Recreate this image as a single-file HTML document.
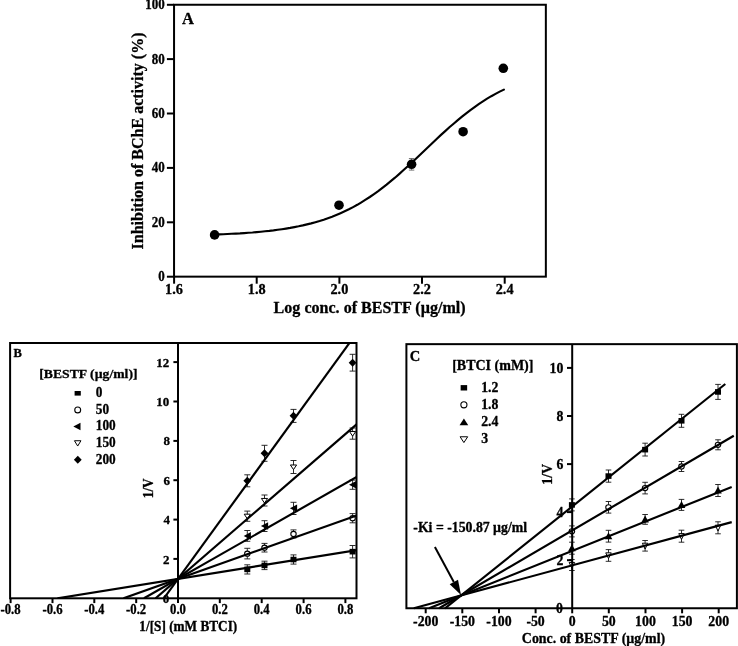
<!DOCTYPE html><html><head><meta charset="utf-8"><title>Figure</title>
<style>html,body{margin:0;padding:0;background:#fff;}svg{display:block;will-change:transform;filter:grayscale(1)}text{font-family:"Liberation Serif",serif;font-weight:bold;fill:#000;stroke:#000;stroke-width:0.3px;stroke-linejoin:round}</style></head><body>
<svg width="738" height="646" viewBox="0 0 738 646">
<rect width="738" height="646" fill="#fff"/>
<rect x="174.05" y="4.75" width="371.8" height="271.9" fill="none" stroke="#000" stroke-width="2.0"/>
<line x1="166.9" y1="276.7" x2="174.1" y2="276.7" stroke="#000" stroke-width="2.0" stroke-linecap="butt"/>
<text transform="translate(164.80 281.10) scale(1 1.08)" font-size="13" text-anchor="end">0</text>
<line x1="166.9" y1="222.3" x2="174.1" y2="222.3" stroke="#000" stroke-width="2.0" stroke-linecap="butt"/>
<text transform="translate(164.80 226.71) scale(1 1.08)" font-size="13" text-anchor="end">20</text>
<line x1="166.9" y1="167.9" x2="174.1" y2="167.9" stroke="#000" stroke-width="2.0" stroke-linecap="butt"/>
<text transform="translate(164.80 172.32) scale(1 1.08)" font-size="13" text-anchor="end">40</text>
<line x1="166.9" y1="113.5" x2="174.1" y2="113.5" stroke="#000" stroke-width="2.0" stroke-linecap="butt"/>
<text transform="translate(164.80 117.93) scale(1 1.08)" font-size="13" text-anchor="end">60</text>
<line x1="166.9" y1="59.1" x2="174.1" y2="59.1" stroke="#000" stroke-width="2.0" stroke-linecap="butt"/>
<text transform="translate(164.80 63.54) scale(1 1.08)" font-size="13" text-anchor="end">80</text>
<line x1="166.9" y1="4.8" x2="174.1" y2="4.8" stroke="#000" stroke-width="2.0" stroke-linecap="butt"/>
<text transform="translate(164.80 9.15) scale(1 1.08)" font-size="13" text-anchor="end">100</text>
<line x1="174.1" y1="276.7" x2="174.1" y2="283.7" stroke="#000" stroke-width="2.0" stroke-linecap="butt"/>
<text transform="translate(174.05 294.20) scale(1 1.07)" font-size="14.3" text-anchor="middle">1.6</text>
<line x1="256.7" y1="276.7" x2="256.7" y2="283.7" stroke="#000" stroke-width="2.0" stroke-linecap="butt"/>
<text transform="translate(256.70 294.20) scale(1 1.07)" font-size="14.3" text-anchor="middle">1.8</text>
<line x1="339.4" y1="276.7" x2="339.4" y2="283.7" stroke="#000" stroke-width="2.0" stroke-linecap="butt"/>
<text transform="translate(339.35 294.20) scale(1 1.07)" font-size="14.3" text-anchor="middle">2.0</text>
<line x1="422.0" y1="276.7" x2="422.0" y2="283.7" stroke="#000" stroke-width="2.0" stroke-linecap="butt"/>
<text transform="translate(422.00 294.20) scale(1 1.07)" font-size="14.3" text-anchor="middle">2.2</text>
<line x1="504.7" y1="276.7" x2="504.7" y2="283.7" stroke="#000" stroke-width="2.0" stroke-linecap="butt"/>
<text transform="translate(504.65 294.20) scale(1 1.07)" font-size="14.3" text-anchor="middle">2.4</text>
<text transform="translate(369.60 312.60)" font-size="15.7" text-anchor="middle" textLength="192.0" lengthAdjust="spacingAndGlyphs">Log conc. of BESTF (µg/ml)</text>
<text transform="translate(142.90 141.00) rotate(-90)" font-size="16" text-anchor="middle" textLength="217.0" lengthAdjust="spacingAndGlyphs">Inhibition of BChE activity (%)</text>
<text transform="translate(187.90 23.70)" font-size="16.5" text-anchor="middle">A</text>
<path d="M214.8,234.5 L219.0,234.4 L223.2,234.2 L227.4,234.0 L231.6,233.8 L235.8,233.6 L240.0,233.4 L244.2,233.1 L248.3,232.8 L252.5,232.5 L256.7,232.1 L260.9,231.7 L265.1,231.3 L269.3,230.9 L273.5,230.4 L277.7,229.8 L281.9,229.2 L286.0,228.6 L290.2,227.9 L294.4,227.1 L298.6,226.3 L302.8,225.4 L307.0,224.4 L311.2,223.4 L315.4,222.2 L319.6,221.0 L323.7,219.7 L327.9,218.2 L332.1,216.7 L336.3,215.0 L340.5,213.2 L344.7,211.3 L348.9,209.3 L353.1,207.1 L357.3,204.8 L361.4,202.3 L365.6,199.7 L369.8,197.0 L374.0,194.1 L378.2,191.1 L382.4,187.9 L386.6,184.7 L390.8,181.2 L395.0,177.7 L399.1,174.1 L403.3,170.3 L407.5,166.5 L411.7,162.6 L415.9,158.7 L420.1,154.7 L424.3,150.8 L428.5,146.8 L432.7,142.8 L436.9,138.8 L441.0,134.9 L445.2,131.1 L449.4,127.3 L453.6,123.7 L457.8,120.1 L462.0,116.7 L466.2,113.3 L470.4,110.1 L474.6,107.1 L478.7,104.1 L482.9,101.4 L487.1,98.7 L491.3,96.2 L495.5,93.9 L499.7,91.6 L503.9,89.6" fill="none" stroke="#000" stroke-width="2.15" stroke-linecap="round"/>
<line x1="411.6" y1="158.5" x2="411.6" y2="170.1" stroke="#555" stroke-width="0.8" stroke-linecap="butt"/>
<line x1="408.9" y1="158.5" x2="414.3" y2="158.5" stroke="#555" stroke-width="0.8" stroke-linecap="butt"/>
<line x1="408.9" y1="170.1" x2="414.3" y2="170.1" stroke="#555" stroke-width="0.8" stroke-linecap="butt"/>
<circle cx="214.6" cy="234.9" r="4.8" fill="#000"/>
<circle cx="339.0" cy="205.2" r="4.8" fill="#000"/>
<circle cx="411.6" cy="164.3" r="4.8" fill="#000"/>
<circle cx="463.1" cy="131.7" r="4.8" fill="#000"/>
<circle cx="503.3" cy="68.3" r="4.8" fill="#000"/>
<line x1="247.3" y1="564.8" x2="247.3" y2="574.0" stroke="#151515" stroke-width="0.9" stroke-linecap="butt"/>
<line x1="244.3" y1="564.8" x2="250.3" y2="564.8" stroke="#151515" stroke-width="0.9" stroke-linecap="butt"/>
<line x1="244.3" y1="574.0" x2="250.3" y2="574.0" stroke="#151515" stroke-width="0.9" stroke-linecap="butt"/>
<line x1="264.5" y1="561.2" x2="264.5" y2="569.6" stroke="#151515" stroke-width="0.9" stroke-linecap="butt"/>
<line x1="261.5" y1="561.2" x2="267.5" y2="561.2" stroke="#151515" stroke-width="0.9" stroke-linecap="butt"/>
<line x1="261.5" y1="569.6" x2="267.5" y2="569.6" stroke="#151515" stroke-width="0.9" stroke-linecap="butt"/>
<line x1="293.5" y1="554.9" x2="293.5" y2="564.1" stroke="#151515" stroke-width="0.9" stroke-linecap="butt"/>
<line x1="290.5" y1="554.9" x2="296.5" y2="554.9" stroke="#151515" stroke-width="0.9" stroke-linecap="butt"/>
<line x1="290.5" y1="564.1" x2="296.5" y2="564.1" stroke="#151515" stroke-width="0.9" stroke-linecap="butt"/>
<line x1="352.6" y1="545.5" x2="352.6" y2="557.9" stroke="#151515" stroke-width="0.9" stroke-linecap="butt"/>
<line x1="349.6" y1="545.5" x2="355.6" y2="545.5" stroke="#151515" stroke-width="0.9" stroke-linecap="butt"/>
<line x1="349.6" y1="557.9" x2="355.6" y2="557.9" stroke="#151515" stroke-width="0.9" stroke-linecap="butt"/>
<line x1="247.3" y1="548.3" x2="247.3" y2="558.9" stroke="#151515" stroke-width="0.9" stroke-linecap="butt"/>
<line x1="244.3" y1="548.3" x2="250.3" y2="548.3" stroke="#151515" stroke-width="0.9" stroke-linecap="butt"/>
<line x1="244.3" y1="558.9" x2="250.3" y2="558.9" stroke="#151515" stroke-width="0.9" stroke-linecap="butt"/>
<line x1="264.5" y1="543.4" x2="264.5" y2="552.0" stroke="#151515" stroke-width="0.9" stroke-linecap="butt"/>
<line x1="261.5" y1="543.4" x2="267.5" y2="543.4" stroke="#151515" stroke-width="0.9" stroke-linecap="butt"/>
<line x1="261.5" y1="552.0" x2="267.5" y2="552.0" stroke="#151515" stroke-width="0.9" stroke-linecap="butt"/>
<line x1="293.5" y1="529.9" x2="293.5" y2="537.9" stroke="#151515" stroke-width="0.9" stroke-linecap="butt"/>
<line x1="290.5" y1="529.9" x2="296.5" y2="529.9" stroke="#151515" stroke-width="0.9" stroke-linecap="butt"/>
<line x1="290.5" y1="537.9" x2="296.5" y2="537.9" stroke="#151515" stroke-width="0.9" stroke-linecap="butt"/>
<line x1="352.6" y1="513.6" x2="352.6" y2="522.8" stroke="#151515" stroke-width="0.9" stroke-linecap="butt"/>
<line x1="349.6" y1="513.6" x2="355.6" y2="513.6" stroke="#151515" stroke-width="0.9" stroke-linecap="butt"/>
<line x1="349.6" y1="522.8" x2="355.6" y2="522.8" stroke="#151515" stroke-width="0.9" stroke-linecap="butt"/>
<line x1="247.3" y1="530.5" x2="247.3" y2="541.3" stroke="#151515" stroke-width="0.9" stroke-linecap="butt"/>
<line x1="244.3" y1="530.5" x2="250.3" y2="530.5" stroke="#151515" stroke-width="0.9" stroke-linecap="butt"/>
<line x1="244.3" y1="541.3" x2="250.3" y2="541.3" stroke="#151515" stroke-width="0.9" stroke-linecap="butt"/>
<line x1="264.5" y1="520.7" x2="264.5" y2="531.5" stroke="#151515" stroke-width="0.9" stroke-linecap="butt"/>
<line x1="261.5" y1="520.7" x2="267.5" y2="520.7" stroke="#151515" stroke-width="0.9" stroke-linecap="butt"/>
<line x1="261.5" y1="531.5" x2="267.5" y2="531.5" stroke="#151515" stroke-width="0.9" stroke-linecap="butt"/>
<line x1="293.5" y1="502.3" x2="293.5" y2="514.5" stroke="#151515" stroke-width="0.9" stroke-linecap="butt"/>
<line x1="290.5" y1="502.3" x2="296.5" y2="502.3" stroke="#151515" stroke-width="0.9" stroke-linecap="butt"/>
<line x1="290.5" y1="514.5" x2="296.5" y2="514.5" stroke="#151515" stroke-width="0.9" stroke-linecap="butt"/>
<line x1="352.6" y1="480.1" x2="352.6" y2="489.3" stroke="#151515" stroke-width="0.9" stroke-linecap="butt"/>
<line x1="349.6" y1="480.1" x2="355.6" y2="480.1" stroke="#151515" stroke-width="0.9" stroke-linecap="butt"/>
<line x1="349.6" y1="489.3" x2="355.6" y2="489.3" stroke="#151515" stroke-width="0.9" stroke-linecap="butt"/>
<line x1="247.3" y1="511.1" x2="247.3" y2="521.3" stroke="#151515" stroke-width="0.9" stroke-linecap="butt"/>
<line x1="244.3" y1="511.1" x2="250.3" y2="511.1" stroke="#151515" stroke-width="0.9" stroke-linecap="butt"/>
<line x1="244.3" y1="521.3" x2="250.3" y2="521.3" stroke="#151515" stroke-width="0.9" stroke-linecap="butt"/>
<line x1="264.5" y1="495.0" x2="264.5" y2="506.0" stroke="#151515" stroke-width="0.9" stroke-linecap="butt"/>
<line x1="261.5" y1="495.0" x2="267.5" y2="495.0" stroke="#151515" stroke-width="0.9" stroke-linecap="butt"/>
<line x1="261.5" y1="506.0" x2="267.5" y2="506.0" stroke="#151515" stroke-width="0.9" stroke-linecap="butt"/>
<line x1="293.5" y1="460.5" x2="293.5" y2="473.5" stroke="#151515" stroke-width="0.9" stroke-linecap="butt"/>
<line x1="290.5" y1="460.5" x2="296.5" y2="460.5" stroke="#151515" stroke-width="0.9" stroke-linecap="butt"/>
<line x1="290.5" y1="473.5" x2="296.5" y2="473.5" stroke="#151515" stroke-width="0.9" stroke-linecap="butt"/>
<line x1="352.6" y1="428.0" x2="352.6" y2="439.2" stroke="#151515" stroke-width="0.9" stroke-linecap="butt"/>
<line x1="349.6" y1="428.0" x2="355.6" y2="428.0" stroke="#151515" stroke-width="0.9" stroke-linecap="butt"/>
<line x1="349.6" y1="439.2" x2="355.6" y2="439.2" stroke="#151515" stroke-width="0.9" stroke-linecap="butt"/>
<line x1="247.3" y1="474.8" x2="247.3" y2="486.8" stroke="#151515" stroke-width="0.9" stroke-linecap="butt"/>
<line x1="244.3" y1="474.8" x2="250.3" y2="474.8" stroke="#151515" stroke-width="0.9" stroke-linecap="butt"/>
<line x1="244.3" y1="486.8" x2="250.3" y2="486.8" stroke="#151515" stroke-width="0.9" stroke-linecap="butt"/>
<line x1="264.5" y1="445.3" x2="264.5" y2="461.3" stroke="#151515" stroke-width="0.9" stroke-linecap="butt"/>
<line x1="261.5" y1="445.3" x2="267.5" y2="445.3" stroke="#151515" stroke-width="0.9" stroke-linecap="butt"/>
<line x1="261.5" y1="461.3" x2="267.5" y2="461.3" stroke="#151515" stroke-width="0.9" stroke-linecap="butt"/>
<line x1="293.5" y1="409.4" x2="293.5" y2="422.4" stroke="#151515" stroke-width="0.9" stroke-linecap="butt"/>
<line x1="290.5" y1="409.4" x2="296.5" y2="409.4" stroke="#151515" stroke-width="0.9" stroke-linecap="butt"/>
<line x1="290.5" y1="422.4" x2="296.5" y2="422.4" stroke="#151515" stroke-width="0.9" stroke-linecap="butt"/>
<line x1="352.6" y1="354.3" x2="352.6" y2="371.1" stroke="#151515" stroke-width="0.9" stroke-linecap="butt"/>
<line x1="349.6" y1="354.3" x2="355.6" y2="354.3" stroke="#151515" stroke-width="0.9" stroke-linecap="butt"/>
<line x1="349.6" y1="371.1" x2="355.6" y2="371.1" stroke="#151515" stroke-width="0.9" stroke-linecap="butt"/>
<rect x="244.30" y="566.57" width="6.00" height="5.60" fill="#000"/>
<rect x="261.50" y="562.63" width="6.00" height="5.60" fill="#000"/>
<rect x="290.50" y="556.73" width="6.00" height="5.60" fill="#000"/>
<rect x="349.60" y="548.86" width="6.00" height="5.60" fill="#000"/>
<ellipse cx="247.30" cy="553.63" rx="2.70" ry="2.55" fill="#fff" stroke="#000" stroke-width="1.1"/>
<ellipse cx="264.50" cy="547.72" rx="2.70" ry="2.55" fill="#fff" stroke="#000" stroke-width="1.1"/>
<ellipse cx="293.50" cy="533.95" rx="2.70" ry="2.55" fill="#fff" stroke="#000" stroke-width="1.1"/>
<ellipse cx="352.60" cy="518.20" rx="2.70" ry="2.55" fill="#fff" stroke="#000" stroke-width="1.1"/>
<polygon points="243.70,535.91 250.90,532.11 250.90,539.71" fill="#000"/>
<polygon points="260.90,526.07 268.10,522.27 268.10,529.87" fill="#000"/>
<polygon points="289.90,508.36 297.10,504.56 297.10,512.16" fill="#000"/>
<polygon points="349.00,484.75 356.20,480.95 356.20,488.55" fill="#000"/>
<polygon points="244.20,514.18 250.40,514.18 247.30,518.78" fill="#fff" stroke="#000" stroke-width="1.0" stroke-linejoin="miter"/>
<polygon points="261.40,498.44 267.60,498.44 264.50,503.04" fill="#fff" stroke="#000" stroke-width="1.0" stroke-linejoin="miter"/>
<polygon points="290.40,464.98 296.60,464.98 293.50,469.58" fill="#fff" stroke="#000" stroke-width="1.0" stroke-linejoin="miter"/>
<polygon points="349.50,431.53 355.70,431.53 352.60,436.13" fill="#fff" stroke="#000" stroke-width="1.0" stroke-linejoin="miter"/>
<polygon points="247.30,476.81 251.20,480.81 247.30,484.81 243.40,480.81" fill="#000"/>
<polygon points="264.50,449.26 268.40,453.26 264.50,457.26 260.60,453.26" fill="#000"/>
<polygon points="293.50,411.87 297.40,415.87 293.50,419.87 289.60,415.87" fill="#000"/>
<polygon points="352.60,358.73 356.50,362.73 352.60,366.73 348.70,362.73" fill="#000"/>
<clipPath id="cb"><rect x="10.1" y="343.0" width="346.4" height="255.3"/></clipPath>
<g clip-path="url(#cb)">
<line x1="57.5" y1="598.3" x2="366.3" y2="548.6" stroke="#000" stroke-width="2.15" stroke-linecap="butt"/>
<line x1="123.5" y1="598.3" x2="366.3" y2="512.0" stroke="#000" stroke-width="2.15" stroke-linecap="butt"/>
<line x1="144.0" y1="598.3" x2="366.3" y2="471.4" stroke="#000" stroke-width="2.15" stroke-linecap="butt"/>
<line x1="155.6" y1="598.3" x2="366.3" y2="416.0" stroke="#000" stroke-width="2.15" stroke-linecap="butt"/>
<line x1="163.9" y1="598.3" x2="366.3" y2="319.8" stroke="#000" stroke-width="2.15" stroke-linecap="butt"/>
</g>
<rect x="10.1" y="343.0" width="346.4" height="255.3" fill="none" stroke="#000" stroke-width="2.0"/>
<line x1="178.0" y1="343.0" x2="178.0" y2="598.3" stroke="#000" stroke-width="2.0" stroke-linecap="butt"/>
<line x1="173.4" y1="558.9" x2="178.0" y2="558.9" stroke="#000" stroke-width="2.0" stroke-linecap="butt"/>
<text transform="translate(169.40 563.54) scale(1 0.93)" font-size="13" text-anchor="end">2</text>
<line x1="173.4" y1="519.6" x2="178.0" y2="519.6" stroke="#000" stroke-width="2.0" stroke-linecap="butt"/>
<text transform="translate(169.90 524.18) scale(1 0.93)" font-size="13" text-anchor="end">4</text>
<line x1="173.4" y1="480.2" x2="178.0" y2="480.2" stroke="#000" stroke-width="2.0" stroke-linecap="butt"/>
<text transform="translate(169.90 484.82) scale(1 0.93)" font-size="13" text-anchor="end">6</text>
<line x1="173.4" y1="440.9" x2="178.0" y2="440.9" stroke="#000" stroke-width="2.0" stroke-linecap="butt"/>
<text transform="translate(169.90 445.46) scale(1 0.93)" font-size="13" text-anchor="end">8</text>
<line x1="173.4" y1="401.5" x2="178.0" y2="401.5" stroke="#000" stroke-width="2.0" stroke-linecap="butt"/>
<text transform="translate(169.20 406.10) scale(1 0.93)" font-size="13" text-anchor="end">10</text>
<line x1="173.4" y1="362.1" x2="178.0" y2="362.1" stroke="#000" stroke-width="2.0" stroke-linecap="butt"/>
<text transform="translate(169.20 366.74) scale(1 0.93)" font-size="13" text-anchor="end">12</text>
<text transform="translate(169.20 602.60) scale(1 0.9)" font-size="13" text-anchor="end">0</text>
<line x1="10.6" y1="598.3" x2="10.6" y2="603.1" stroke="#000" stroke-width="2.0" stroke-linecap="butt"/>
<text transform="translate(10.60 614.20) scale(1 1.07)" font-size="12.7" text-anchor="middle">-0.8</text>
<line x1="52.5" y1="598.3" x2="52.5" y2="603.1" stroke="#000" stroke-width="2.0" stroke-linecap="butt"/>
<text transform="translate(52.45 614.20) scale(1 1.07)" font-size="12.7" text-anchor="middle">-0.6</text>
<line x1="94.3" y1="598.3" x2="94.3" y2="603.1" stroke="#000" stroke-width="2.0" stroke-linecap="butt"/>
<text transform="translate(94.30 614.20) scale(1 1.07)" font-size="12.7" text-anchor="middle">-0.4</text>
<line x1="136.2" y1="598.3" x2="136.2" y2="603.1" stroke="#000" stroke-width="2.0" stroke-linecap="butt"/>
<text transform="translate(136.15 614.20) scale(1 1.07)" font-size="12.7" text-anchor="middle">-0.2</text>
<line x1="178.0" y1="598.3" x2="178.0" y2="603.1" stroke="#000" stroke-width="2.0" stroke-linecap="butt"/>
<text transform="translate(178.00 614.20) scale(1 1.07)" font-size="12.7" text-anchor="middle">0.0</text>
<line x1="219.8" y1="598.3" x2="219.8" y2="603.1" stroke="#000" stroke-width="2.0" stroke-linecap="butt"/>
<text transform="translate(219.85 614.20) scale(1 1.07)" font-size="12.7" text-anchor="middle">0.2</text>
<line x1="261.7" y1="598.3" x2="261.7" y2="603.1" stroke="#000" stroke-width="2.0" stroke-linecap="butt"/>
<text transform="translate(261.70 614.20) scale(1 1.07)" font-size="12.7" text-anchor="middle">0.4</text>
<line x1="303.6" y1="598.3" x2="303.6" y2="603.1" stroke="#000" stroke-width="2.0" stroke-linecap="butt"/>
<text transform="translate(303.55 614.20) scale(1 1.07)" font-size="12.7" text-anchor="middle">0.6</text>
<line x1="345.4" y1="598.3" x2="345.4" y2="603.1" stroke="#000" stroke-width="2.0" stroke-linecap="butt"/>
<text transform="translate(345.40 614.20) scale(1 1.07)" font-size="12.7" text-anchor="middle">0.8</text>
<text transform="translate(188.30 630.90) scale(1 1.1)" font-size="13" text-anchor="middle" textLength="97.9" lengthAdjust="spacingAndGlyphs">1/[S] (mM BTCI)</text>
<text transform="translate(152.90 488.30) rotate(-90) scale(1 1.12)" font-size="13.2" text-anchor="middle">1/V</text>
<text transform="translate(17.75 357.30)" font-size="12.5" text-anchor="middle">B</text>
<text transform="translate(88.40 378.30)" font-size="13.3" text-anchor="middle" textLength="98.2" lengthAdjust="spacingAndGlyphs">[BESTF (µg/ml)]</text>
<rect x="74.60" y="391.00" width="6.20" height="4.60" fill="#000"/>
<text transform="translate(95.80 397.20) scale(1 1.05)" font-size="13.3" text-anchor="start">0</text>
<ellipse cx="77.70" cy="409.90" rx="2.95" ry="2.95" fill="#fff" stroke="#000" stroke-width="1.1"/>
<text transform="translate(95.80 413.80) scale(1 1.05)" font-size="13.3" text-anchor="start">50</text>
<polygon points="73.30,426.50 80.50,422.70 80.50,430.30" fill="#000"/>
<text transform="translate(95.80 430.40) scale(1 1.05)" font-size="13.3" text-anchor="start">100</text>
<polygon points="74.45,440.74 80.95,440.74 77.70,446.04" fill="#fff" stroke="#000" stroke-width="1.0" stroke-linejoin="miter"/>
<text transform="translate(95.80 447.00) scale(1 1.05)" font-size="13.3" text-anchor="start">150</text>
<polygon points="77.80,455.70 81.70,459.70 77.80,463.70 73.90,459.70" fill="#000"/>
<text transform="translate(95.80 463.60) scale(1 1.05)" font-size="13.3" text-anchor="start">200</text>
<line x1="571.9" y1="498.9" x2="571.9" y2="510.9" stroke="#151515" stroke-width="0.9" stroke-linecap="butt"/>
<line x1="569.1" y1="498.9" x2="574.7" y2="498.9" stroke="#151515" stroke-width="0.9" stroke-linecap="butt"/>
<line x1="569.1" y1="510.9" x2="574.7" y2="510.9" stroke="#151515" stroke-width="0.9" stroke-linecap="butt"/>
<line x1="608.5" y1="470.0" x2="608.5" y2="482.2" stroke="#151515" stroke-width="0.9" stroke-linecap="butt"/>
<line x1="605.7" y1="470.0" x2="611.3" y2="470.0" stroke="#151515" stroke-width="0.9" stroke-linecap="butt"/>
<line x1="605.7" y1="482.2" x2="611.3" y2="482.2" stroke="#151515" stroke-width="0.9" stroke-linecap="butt"/>
<line x1="645.1" y1="443.2" x2="645.1" y2="456.0" stroke="#151515" stroke-width="0.9" stroke-linecap="butt"/>
<line x1="642.3" y1="443.2" x2="647.9" y2="443.2" stroke="#151515" stroke-width="0.9" stroke-linecap="butt"/>
<line x1="642.3" y1="456.0" x2="647.9" y2="456.0" stroke="#151515" stroke-width="0.9" stroke-linecap="butt"/>
<line x1="681.5" y1="414.3" x2="681.5" y2="427.3" stroke="#151515" stroke-width="0.9" stroke-linecap="butt"/>
<line x1="678.7" y1="414.3" x2="684.3" y2="414.3" stroke="#151515" stroke-width="0.9" stroke-linecap="butt"/>
<line x1="678.7" y1="427.3" x2="684.3" y2="427.3" stroke="#151515" stroke-width="0.9" stroke-linecap="butt"/>
<line x1="718.0" y1="384.4" x2="718.0" y2="399.4" stroke="#151515" stroke-width="0.9" stroke-linecap="butt"/>
<line x1="715.2" y1="384.4" x2="720.8" y2="384.4" stroke="#151515" stroke-width="0.9" stroke-linecap="butt"/>
<line x1="715.2" y1="399.4" x2="720.8" y2="399.4" stroke="#151515" stroke-width="0.9" stroke-linecap="butt"/>
<line x1="571.9" y1="525.9" x2="571.9" y2="536.9" stroke="#151515" stroke-width="0.9" stroke-linecap="butt"/>
<line x1="569.1" y1="525.9" x2="574.7" y2="525.9" stroke="#151515" stroke-width="0.9" stroke-linecap="butt"/>
<line x1="569.1" y1="536.9" x2="574.7" y2="536.9" stroke="#151515" stroke-width="0.9" stroke-linecap="butt"/>
<line x1="608.5" y1="501.5" x2="608.5" y2="513.1" stroke="#151515" stroke-width="0.9" stroke-linecap="butt"/>
<line x1="605.7" y1="501.5" x2="611.3" y2="501.5" stroke="#151515" stroke-width="0.9" stroke-linecap="butt"/>
<line x1="605.7" y1="513.1" x2="611.3" y2="513.1" stroke="#151515" stroke-width="0.9" stroke-linecap="butt"/>
<line x1="645.1" y1="482.3" x2="645.1" y2="493.9" stroke="#151515" stroke-width="0.9" stroke-linecap="butt"/>
<line x1="642.3" y1="482.3" x2="647.9" y2="482.3" stroke="#151515" stroke-width="0.9" stroke-linecap="butt"/>
<line x1="642.3" y1="493.9" x2="647.9" y2="493.9" stroke="#151515" stroke-width="0.9" stroke-linecap="butt"/>
<line x1="681.5" y1="461.5" x2="681.5" y2="471.5" stroke="#151515" stroke-width="0.9" stroke-linecap="butt"/>
<line x1="678.7" y1="461.5" x2="684.3" y2="461.5" stroke="#151515" stroke-width="0.9" stroke-linecap="butt"/>
<line x1="678.7" y1="471.5" x2="684.3" y2="471.5" stroke="#151515" stroke-width="0.9" stroke-linecap="butt"/>
<line x1="718.0" y1="439.8" x2="718.0" y2="449.8" stroke="#151515" stroke-width="0.9" stroke-linecap="butt"/>
<line x1="715.2" y1="439.8" x2="720.8" y2="439.8" stroke="#151515" stroke-width="0.9" stroke-linecap="butt"/>
<line x1="715.2" y1="449.8" x2="720.8" y2="449.8" stroke="#151515" stroke-width="0.9" stroke-linecap="butt"/>
<line x1="571.9" y1="542.2" x2="571.9" y2="554.2" stroke="#151515" stroke-width="0.9" stroke-linecap="butt"/>
<line x1="569.1" y1="542.2" x2="574.7" y2="542.2" stroke="#151515" stroke-width="0.9" stroke-linecap="butt"/>
<line x1="569.1" y1="554.2" x2="574.7" y2="554.2" stroke="#151515" stroke-width="0.9" stroke-linecap="butt"/>
<line x1="608.5" y1="530.3" x2="608.5" y2="542.1" stroke="#151515" stroke-width="0.9" stroke-linecap="butt"/>
<line x1="605.7" y1="530.3" x2="611.3" y2="530.3" stroke="#151515" stroke-width="0.9" stroke-linecap="butt"/>
<line x1="605.7" y1="542.1" x2="611.3" y2="542.1" stroke="#151515" stroke-width="0.9" stroke-linecap="butt"/>
<line x1="645.1" y1="514.5" x2="645.1" y2="524.3" stroke="#151515" stroke-width="0.9" stroke-linecap="butt"/>
<line x1="642.3" y1="514.5" x2="647.9" y2="514.5" stroke="#151515" stroke-width="0.9" stroke-linecap="butt"/>
<line x1="642.3" y1="524.3" x2="647.9" y2="524.3" stroke="#151515" stroke-width="0.9" stroke-linecap="butt"/>
<line x1="681.5" y1="499.4" x2="681.5" y2="510.4" stroke="#151515" stroke-width="0.9" stroke-linecap="butt"/>
<line x1="678.7" y1="499.4" x2="684.3" y2="499.4" stroke="#151515" stroke-width="0.9" stroke-linecap="butt"/>
<line x1="678.7" y1="510.4" x2="684.3" y2="510.4" stroke="#151515" stroke-width="0.9" stroke-linecap="butt"/>
<line x1="718.0" y1="484.5" x2="718.0" y2="496.5" stroke="#151515" stroke-width="0.9" stroke-linecap="butt"/>
<line x1="715.2" y1="484.5" x2="720.8" y2="484.5" stroke="#151515" stroke-width="0.9" stroke-linecap="butt"/>
<line x1="715.2" y1="496.5" x2="720.8" y2="496.5" stroke="#151515" stroke-width="0.9" stroke-linecap="butt"/>
<line x1="571.9" y1="559.5" x2="571.9" y2="570.5" stroke="#151515" stroke-width="0.9" stroke-linecap="butt"/>
<line x1="569.1" y1="559.5" x2="574.7" y2="559.5" stroke="#151515" stroke-width="0.9" stroke-linecap="butt"/>
<line x1="569.1" y1="570.5" x2="574.7" y2="570.5" stroke="#151515" stroke-width="0.9" stroke-linecap="butt"/>
<line x1="608.5" y1="549.6" x2="608.5" y2="561.3" stroke="#151515" stroke-width="0.9" stroke-linecap="butt"/>
<line x1="605.7" y1="549.6" x2="611.3" y2="549.6" stroke="#151515" stroke-width="0.9" stroke-linecap="butt"/>
<line x1="605.7" y1="561.3" x2="611.3" y2="561.3" stroke="#151515" stroke-width="0.9" stroke-linecap="butt"/>
<line x1="645.1" y1="540.5" x2="645.1" y2="551.1" stroke="#151515" stroke-width="0.9" stroke-linecap="butt"/>
<line x1="642.3" y1="540.5" x2="647.9" y2="540.5" stroke="#151515" stroke-width="0.9" stroke-linecap="butt"/>
<line x1="642.3" y1="551.1" x2="647.9" y2="551.1" stroke="#151515" stroke-width="0.9" stroke-linecap="butt"/>
<line x1="681.5" y1="530.2" x2="681.5" y2="542.2" stroke="#151515" stroke-width="0.9" stroke-linecap="butt"/>
<line x1="678.7" y1="530.2" x2="684.3" y2="530.2" stroke="#151515" stroke-width="0.9" stroke-linecap="butt"/>
<line x1="678.7" y1="542.2" x2="684.3" y2="542.2" stroke="#151515" stroke-width="0.9" stroke-linecap="butt"/>
<line x1="718.0" y1="521.8" x2="718.0" y2="533.8" stroke="#151515" stroke-width="0.9" stroke-linecap="butt"/>
<line x1="715.2" y1="521.8" x2="720.8" y2="521.8" stroke="#151515" stroke-width="0.9" stroke-linecap="butt"/>
<line x1="715.2" y1="533.8" x2="720.8" y2="533.8" stroke="#151515" stroke-width="0.9" stroke-linecap="butt"/>
<rect x="568.90" y="502.13" width="6.00" height="5.60" fill="#000"/>
<rect x="605.50" y="473.28" width="6.00" height="5.60" fill="#000"/>
<rect x="642.10" y="446.84" width="6.00" height="5.60" fill="#000"/>
<rect x="678.50" y="417.99" width="6.00" height="5.60" fill="#000"/>
<rect x="715.00" y="389.14" width="6.00" height="5.60" fill="#000"/>
<ellipse cx="571.90" cy="531.37" rx="2.75" ry="2.55" fill="#fff" stroke="#000" stroke-width="1.1"/>
<ellipse cx="608.50" cy="507.33" rx="2.75" ry="2.55" fill="#fff" stroke="#000" stroke-width="1.1"/>
<ellipse cx="645.10" cy="488.10" rx="2.75" ry="2.55" fill="#fff" stroke="#000" stroke-width="1.1"/>
<ellipse cx="681.50" cy="466.46" rx="2.75" ry="2.55" fill="#fff" stroke="#000" stroke-width="1.1"/>
<ellipse cx="718.00" cy="444.83" rx="2.75" ry="2.55" fill="#fff" stroke="#000" stroke-width="1.1"/>
<polygon points="571.90,544.28 575.70,551.28 568.10,551.28" fill="#000"/>
<polygon points="608.50,532.26 612.30,539.26 604.70,539.26" fill="#000"/>
<polygon points="645.10,515.43 648.90,522.43 641.30,522.43" fill="#000"/>
<polygon points="681.50,501.01 685.30,508.01 677.70,508.01" fill="#000"/>
<polygon points="718.00,486.58 721.80,493.58 714.20,493.58" fill="#000"/>
<polygon points="569.15,562.45 574.65,562.45 571.90,568.25" fill="#fff" stroke="#000" stroke-width="1.0" stroke-linejoin="miter"/>
<polygon points="605.75,552.83 611.25,552.83 608.50,558.63" fill="#fff" stroke="#000" stroke-width="1.0" stroke-linejoin="miter"/>
<polygon points="642.35,543.22 647.85,543.22 645.10,549.02" fill="#fff" stroke="#000" stroke-width="1.0" stroke-linejoin="miter"/>
<polygon points="678.75,533.60 684.25,533.60 681.50,539.40" fill="#fff" stroke="#000" stroke-width="1.0" stroke-linejoin="miter"/>
<polygon points="715.25,525.19 720.75,525.19 718.00,530.99" fill="#fff" stroke="#000" stroke-width="1.0" stroke-linejoin="miter"/>
<line x1="445.0" y1="608.3" x2="725.3" y2="384.0" stroke="#000" stroke-width="2.15" stroke-linecap="butt"/>
<line x1="439.1" y1="608.3" x2="733.8" y2="435.8" stroke="#000" stroke-width="2.15" stroke-linecap="butt"/>
<line x1="429.1" y1="608.3" x2="731.7" y2="486.9" stroke="#000" stroke-width="2.15" stroke-linecap="butt"/>
<line x1="413.8" y1="608.3" x2="731.7" y2="522.1" stroke="#000" stroke-width="2.15" stroke-linecap="butt"/>
<rect x="406.4" y="344.15" width="330.5" height="264.1" fill="none" stroke="#000" stroke-width="2.0"/>
<line x1="572.2" y1="344.1" x2="572.2" y2="608.3" stroke="#000" stroke-width="2.0" stroke-linecap="butt"/>
<line x1="567.0" y1="560.2" x2="572.2" y2="560.2" stroke="#000" stroke-width="2.0" stroke-linecap="butt"/>
<text transform="translate(563.30 565.22) scale(1 1.1)" font-size="13.8" text-anchor="end">2</text>
<line x1="567.0" y1="512.1" x2="572.2" y2="512.1" stroke="#000" stroke-width="2.0" stroke-linecap="butt"/>
<text transform="translate(563.30 517.14) scale(1 1.1)" font-size="13.8" text-anchor="end">4</text>
<line x1="567.0" y1="464.1" x2="572.2" y2="464.1" stroke="#000" stroke-width="2.0" stroke-linecap="butt"/>
<text transform="translate(563.30 469.06) scale(1 1.1)" font-size="13.8" text-anchor="end">6</text>
<line x1="567.0" y1="416.0" x2="572.2" y2="416.0" stroke="#000" stroke-width="2.0" stroke-linecap="butt"/>
<text transform="translate(563.30 420.98) scale(1 1.1)" font-size="13.8" text-anchor="end">8</text>
<line x1="567.0" y1="367.9" x2="572.2" y2="367.9" stroke="#000" stroke-width="2.0" stroke-linecap="butt"/>
<text transform="translate(563.30 372.90) scale(1 1.1)" font-size="13.8" text-anchor="end">10</text>
<text transform="translate(562.80 612.90) scale(1 1.05)" font-size="13.8" text-anchor="end">0</text>
<line x1="425.7" y1="608.3" x2="425.7" y2="613.3" stroke="#000" stroke-width="2.0" stroke-linecap="butt"/>
<text transform="translate(425.70 625.70) scale(1 1.13)" font-size="13.8" text-anchor="middle">-200</text>
<line x1="462.3" y1="608.3" x2="462.3" y2="613.3" stroke="#000" stroke-width="2.0" stroke-linecap="butt"/>
<text transform="translate(462.33 625.70) scale(1 1.13)" font-size="13.8" text-anchor="middle">-150</text>
<line x1="499.0" y1="608.3" x2="499.0" y2="613.3" stroke="#000" stroke-width="2.0" stroke-linecap="butt"/>
<text transform="translate(498.95 625.70) scale(1 1.13)" font-size="13.8" text-anchor="middle">-100</text>
<line x1="535.6" y1="608.3" x2="535.6" y2="613.3" stroke="#000" stroke-width="2.0" stroke-linecap="butt"/>
<text transform="translate(535.58 625.70) scale(1 1.13)" font-size="13.8" text-anchor="middle">-50</text>
<line x1="572.2" y1="608.3" x2="572.2" y2="613.3" stroke="#000" stroke-width="2.0" stroke-linecap="butt"/>
<text transform="translate(572.20 625.70) scale(1 1.13)" font-size="13.8" text-anchor="middle">0</text>
<line x1="608.8" y1="608.3" x2="608.8" y2="613.3" stroke="#000" stroke-width="2.0" stroke-linecap="butt"/>
<text transform="translate(608.83 625.70) scale(1 1.13)" font-size="13.8" text-anchor="middle">50</text>
<line x1="645.5" y1="608.3" x2="645.5" y2="613.3" stroke="#000" stroke-width="2.0" stroke-linecap="butt"/>
<text transform="translate(645.45 625.70) scale(1 1.13)" font-size="13.8" text-anchor="middle">100</text>
<line x1="682.1" y1="608.3" x2="682.1" y2="613.3" stroke="#000" stroke-width="2.0" stroke-linecap="butt"/>
<text transform="translate(682.08 625.70) scale(1 1.13)" font-size="13.8" text-anchor="middle">150</text>
<line x1="718.7" y1="608.3" x2="718.7" y2="613.3" stroke="#000" stroke-width="2.0" stroke-linecap="butt"/>
<text transform="translate(718.70 625.70) scale(1 1.13)" font-size="13.8" text-anchor="middle">200</text>
<text transform="translate(593.50 642.80)" font-size="13.9" text-anchor="middle">Conc. of BESTF (µg/ml)</text>
<text transform="translate(552.30 474.30) rotate(-90)" font-size="14" text-anchor="middle">1/V</text>
<text transform="translate(414.90 361.00)" font-size="14.5" text-anchor="middle">C</text>
<text transform="translate(492.80 369.90)" font-size="14" text-anchor="middle">[BTCI (mM)]</text>
<rect x="460.65" y="385.10" width="6.50" height="5.40" fill="#000"/>
<text transform="translate(481.20 391.70) scale(1 1.12)" font-size="13.8" text-anchor="start">1.2</text>
<ellipse cx="463.90" cy="404.85" rx="3.05" ry="3.05" fill="#fff" stroke="#000" stroke-width="1.1"/>
<text transform="translate(481.20 408.75) scale(1 1.12)" font-size="13.8" text-anchor="start">1.8</text>
<polygon points="463.90,418.49 468.25,425.29 459.55,425.29" fill="#000"/>
<text transform="translate(481.20 425.80) scale(1 1.12)" font-size="13.8" text-anchor="start">2.4</text>
<polygon points="460.10,436.77 467.70,436.77 463.90,442.57" fill="#fff" stroke="#000" stroke-width="1.0" stroke-linejoin="miter"/>
<text transform="translate(481.20 442.85) scale(1 1.12)" font-size="13.8" text-anchor="start">3</text>
<text transform="translate(413.30 531.50) scale(1 1.12)" font-size="13.5" text-anchor="start" textLength="113.8" lengthAdjust="spacingAndGlyphs">-Ki = -150.87 µg/ml</text>
<line x1="434.9" y1="547.0" x2="453.8" y2="581.9" stroke="#000" stroke-width="2.0" stroke-linecap="butt"/>
<polygon points="461.0,595.1 449.7,584.2 458.0,579.7" fill="#000"/>
</svg></body></html>
